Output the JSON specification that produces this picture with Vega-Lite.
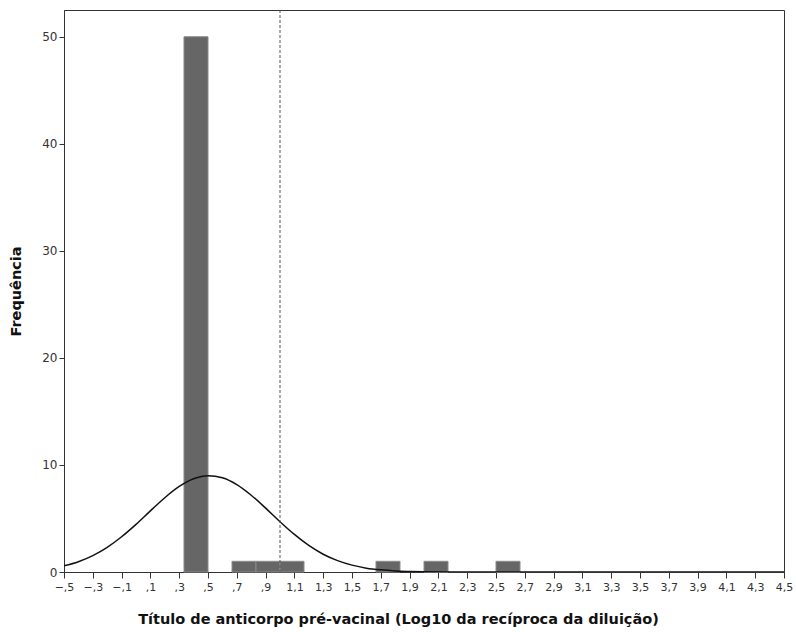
{
  "$schema": "https://vega.github.io/schema/vega-lite/v6.json",
  "width": 720,
  "height": 562,
  "autosize": {"type": "none"},
  "padding": {"left": 64, "top": 10, "right": 12, "bottom": 60},
  "background": "white",
  "config": {
    "view": {"stroke": "#333333", "strokeWidth": 1},
    "font": "DejaVu Sans",
    "axis": {
      "labelFont": "DejaVu Sans",
      "titleFont": "DejaVu Sans",
      "labelColor": "#333333",
      "titleColor": "#111111",
      "domainColor": "#333333",
      "tickColor": "#333333",
      "grid": false
    }
  },
  "datasets": {
    "bars": [
      {"start": 0.3333, "end": 0.5, "count": 50},
      {"start": 0.6667, "end": 0.8333, "count": 1},
      {"start": 0.8333, "end": 1.0, "count": 1},
      {"start": 1.0, "end": 1.1667, "count": 1},
      {"start": 1.6667, "end": 1.8333, "count": 1},
      {"start": 2.0, "end": 2.1667, "count": 1},
      {"start": 2.5, "end": 2.6667, "count": 1}
    ],
    "curve": [
      {"x": -0.5, "y": 0.57}, {"x": -0.4, "y": 0.96}, {"x": -0.3, "y": 1.53},
      {"x": -0.2, "y": 2.30}, {"x": -0.1, "y": 3.29}, {"x": 0.0, "y": 4.45},
      {"x": 0.1, "y": 5.71}, {"x": 0.2, "y": 6.94}, {"x": 0.3, "y": 7.99},
      {"x": 0.4, "y": 8.71}, {"x": 0.5, "y": 9.0}, {"x": 0.6, "y": 8.80},
      {"x": 0.7, "y": 8.16}, {"x": 0.8, "y": 7.17}, {"x": 0.9, "y": 5.97},
      {"x": 1.0, "y": 4.70}, {"x": 1.1, "y": 3.51}, {"x": 1.2, "y": 2.48},
      {"x": 1.3, "y": 1.66}, {"x": 1.4, "y": 1.06}, {"x": 1.5, "y": 0.64},
      {"x": 1.6, "y": 0.36}, {"x": 1.7, "y": 0.20}, {"x": 1.8, "y": 0.10},
      {"x": 1.9, "y": 0.05}, {"x": 2.0, "y": 0.02}, {"x": 2.2, "y": 0.0},
      {"x": 2.5, "y": 0.0}, {"x": 3.0, "y": 0.0}, {"x": 4.5, "y": 0.0}
    ],
    "ref": [{"x": 1.0}]
  },
  "layer": [
    {
      "data": {"name": "bars"},
      "mark": {"type": "rect", "fill": "#666666", "stroke": "#8a8a8a", "strokeWidth": 1},
      "encoding": {
        "x": {
          "field": "start", "type": "quantitative",
          "scale": {"domain": [-0.5, 4.5], "nice": false, "zero": false},
          "axis": {
            "values": [-0.5,-0.3,-0.1,0.1,0.3,0.5,0.7,0.9,1.1,1.3,1.5,1.7,1.9,2.1,2.3,2.5,2.7,2.9,3.1,3.3,3.5,3.7,3.9,4.1,4.3,4.5],
            "tickCount": 40,
            "labelExpr": "replace(replace(format(datum.value, '.1f'), '0.', ','), '.', ',')",
            "labelFontSize": 11,
            "labelOverlap": false,
            "labelFlush": false,
            "labelPadding": 3,
            "tickSize": 6,
            "title": "Título de anticorpo pré-vacinal (Log10 da recíproca da diluição)",
            "titleFontSize": 14.5,
            "titleFontWeight": "bold",
            "titlePadding": 20,
            "titleX": 334
          }
        },
        "x2": {"field": "end"},
        "y": {
          "field": "count", "type": "quantitative",
          "scale": {"domain": [0, 52.5], "nice": false},
          "axis": {
            "values": [0, 10, 20, 30, 40, 50],
            "labelFontSize": 12,
            "labelFlush": false,
            "tickSize": 5,
            "labelPadding": 2,
            "title": "Frequência",
            "titleFontSize": 14.5,
            "titleFontWeight": "bold",
            "titlePadding": 18
          }
        },
        "y2": {"datum": 0}
      }
    },
    {
      "data": {"name": "curve"},
      "mark": {"type": "line", "color": "#111111", "strokeWidth": 1.5, "interpolate": "monotone", "clip": true},
      "encoding": {
        "x": {"field": "x", "type": "quantitative"},
        "y": {"field": "y", "type": "quantitative"}
      }
    },
    {
      "data": {"name": "ref"},
      "mark": {"type": "rule", "color": "#555555", "strokeWidth": 1, "strokeDash": [3, 2]},
      "encoding": {
        "x": {"field": "x", "type": "quantitative"}
      }
    }
  ]
}
